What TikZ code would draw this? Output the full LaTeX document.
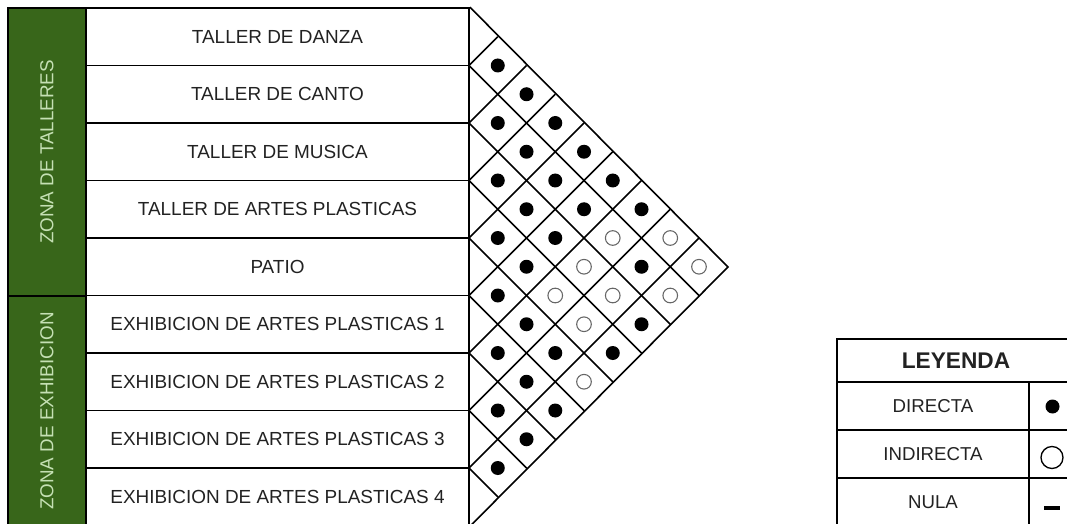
\documentclass[tikz,border=0pt]{standalone}
\usepackage{fontspec}
\setmainfont{Liberation Sans}
\definecolor{zonegreen}{HTML}{38661A}
\definecolor{zonetext}{HTML}{C5E0B4}
\definecolor{ink}{HTML}{222222}
\begin{document}
\begin{tikzpicture}[x=0.75pt,y=-0.75pt,line width=1.3pt,
  rowbox/.style={draw=black,fill=white,minimum width=287.25pt,minimum height=43.125pt,inner sep=0pt,text=ink,font=\fontsize{14.2}{16}\selectfont},
  zonebox/.style={draw=black,fill=zonegreen,minimum width=58.5pt,inner sep=0pt,text=zonetext,font=\fontsize{14.1}{16}\selectfont},
  fulldot/.style={circle,fill=black,minimum size=10.5pt,inner sep=0pt},
  opendot/.style={circle,draw=black!60,line width=0.8pt,minimum size=11pt,inner sep=0pt},
  legcell/.style={draw=black,minimum height=36pt,inner sep=0pt,text=ink,font=\fontsize{14}{16}\selectfont},
  gridline/.style={draw=black,line width=1.2pt}]
\useasboundingbox (0,0) rectangle (1067,524);
\clip (0,0) rectangle (1067,524);
% zone boxes
\node[zonebox,minimum height=216pt] (z1) at (47,152) {\rotatebox{90}{ZONA DE TALLERES}};
\node[zonebox,minimum height=172.5pt] (z2) at (47,411) {\rotatebox{90}{ZONA DE EXHIBICION}};
% rows
\foreach \n/\t [count=\k from 0] in {r0/TALLER DE DANZA,r1/TALLER DE CANTO,r2/TALLER DE MUSICA,r3/TALLER DE ARTES PLASTICAS,r4/PATIO,r5/EXHIBICION DE ARTES PLASTICAS 1,r6/EXHIBICION DE ARTES PLASTICAS 2,r7/EXHIBICION DE ARTES PLASTICAS 3,r8/EXHIBICION DE ARTES PLASTICAS 4}
  \node[rowbox] (\n) at (277.5,{36.75+57.5*\k}) {\t};
% triangle matrix
\coordinate (apex) at (728,267);
\draw[gridline] (r0.north east) -- (apex) -- (r8.south east);
\foreach \k in {1,...,8} {
  \pgfmathsetmacro\yk{8+57.5*\k}
  \draw[gridline] (469,\yk) -- ({469+(526-\yk)/2},{(526+\yk)/2});
  \draw[gridline] (469,\yk) -- ({469+(\yk-8)/2},{(\yk+8)/2});
}
\foreach \i/\j in {0/1,0/2,1/2,0/3,1/3,0/4,2/3,1/4,0/5,2/4,1/5,0/6,3/4,2/5,3/5,1/7,4/5,4/6,2/8,5/6,4/7,3/8,5/7,5/8,6/7,6/8,7/8}
  \node[fulldot] (d\i\j) at ({469+(\j-\i)*28.75},{8+(\i+\j+1)*28.75}) {};
\foreach \i/\j in {1/6,0/7,2/6,0/8,3/6,2/7,1/8,3/7,4/8}
  \node[opendot] (d\i\j) at ({469+(\j-\i)*28.75},{8+(\i+\j+1)*28.75}) {};
% legend
\node[draw=black,minimum width=178.5pt,minimum height=32.25pt,inner sep=0pt,font=\fontsize{17}{19}\bfseries\selectfont,text=ink] (leyenda) at (956,360.5) {LEYENDA};
\node[legcell,minimum width=144pt] (ldir) at (933,406) {DIRECTA};
\node[legcell,minimum width=144pt] (lind) at (933,454) {INDIRECTA};
\node[legcell,minimum width=144pt] (lnul) at (933,502) {NULA};
\node[legcell,minimum width=34.5pt] (sdir) at (1052,406) {};
\node[legcell,minimum width=34.5pt] (sind) at (1052,454) {};
\node[legcell,minimum width=34.5pt] (snul) at (1052,502) {};
\node[fulldot] (symdir) at (1052.5,406.5) {};
\node[circle,draw=black,line width=1pt,minimum size=16.5pt,inner sep=0pt] (symind) at (1052,457.5) {};
\node[rectangle,fill=black,minimum width=12pt,minimum height=3pt,inner sep=0pt] (symnul) at (1052,507.5) {};
\end{tikzpicture}
\end{document}
